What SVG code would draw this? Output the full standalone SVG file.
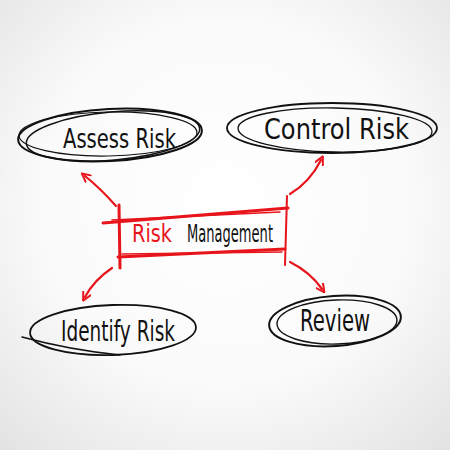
<svg xmlns="http://www.w3.org/2000/svg" width="450" height="450" viewBox="0 0 450 450">
<defs>
<radialGradient id="bg" cx="0.5" cy="0.45" r="0.75">
<stop offset="0" stop-color="#ffffff"/>
<stop offset="0.55" stop-color="#fafafa"/>
<stop offset="1" stop-color="#e2e2e2"/>
</radialGradient>
<marker id="ah" viewBox="0 0 12 12" refX="6" refY="6" markerWidth="4.5" markerHeight="4.5" orient="auto">
<path d="M1,1 L11,6 L1,11" fill="none" stroke="#e8141b" stroke-width="2.4" stroke-linecap="round" stroke-linejoin="round"/>
</marker>
</defs>
<style>
.o{fill:none;stroke:#111;stroke-linecap:round}
.t{font-family:"DejaVu Sans","Liberation Sans",sans-serif;font-weight:normal;fill:#111}
.red{fill:#e8141b}
.r{fill:none;stroke:#e8141b;stroke-linecap:round}
.c{fill:none;stroke:#e8141b;stroke-width:2.2;stroke-linecap:round}
</style>
<rect width="450" height="450" fill="url(#bg)"/>
<g id="connectors">
<path class="c" d="M116,206 Q100,188 85,176" marker-end="url(#ah)"/>
<path class="c" d="M290,194 Q310,182 321,160" marker-end="url(#ah)"/>
<path class="c" d="M112,268 Q94,280 85,297" marker-end="url(#ah)"/>
<path class="c" d="M290,262 Q310,272 322,289" marker-end="url(#ah)"/>
</g>
<g id="assess">
<ellipse class="o" cx="110" cy="135" rx="92" ry="26" stroke-width="2" transform="rotate(-3 110 135)"/>
<ellipse class="o" cx="113" cy="136" rx="87" ry="24" stroke-width="1.5" transform="rotate(-5 113 136)"/>
<ellipse class="o" cx="108" cy="134" rx="89" ry="22" stroke-width="1.2" transform="rotate(-1 108 134)"/>
<text class="t" x="63" y="148" font-size="27" textLength="113" lengthAdjust="spacingAndGlyphs">Assess Risk</text>
</g>
<g id="control">
<ellipse class="o" cx="332" cy="128" rx="105" ry="25" stroke-width="1.8"/>
<ellipse class="o" cx="335" cy="130" rx="97" ry="22" stroke-width="1.3" transform="rotate(1 335 130)"/>
<text class="t" x="264" y="139" font-size="29" textLength="145" lengthAdjust="spacingAndGlyphs">Control Risk</text>
</g>
<g id="risk-management">
<path class="r" stroke-width="3" d="M103,223 L288,208"/>
<path class="r" stroke-width="1.5" d="M112,220 L280,212"/>
<path class="r" stroke-width="3" d="M118,257 L285,249"/>
<path class="r" stroke-width="1.5" d="M122,254 L282,252"/>
<path class="r" stroke-width="3" d="M119,205 L120,268"/>
<path class="r" stroke-width="2" d="M287,196 L285,265"/>
<text class="t red" x="132" y="242" font-size="25" textLength="40" lengthAdjust="spacingAndGlyphs">Risk</text>
<text class="t" x="187" y="242" font-size="24" textLength="86" lengthAdjust="spacingAndGlyphs">Management</text>
</g>
<g id="identify">
<ellipse class="o" cx="113" cy="330" rx="83" ry="25" stroke-width="1.8" transform="rotate(-2 113 330)"/>
<path class="o" stroke-width="1.5" d="M22,337 Q70,350 120,355"/>
<text class="t" x="61" y="341" font-size="28" textLength="114" lengthAdjust="spacingAndGlyphs">Identify Risk</text>
</g>
<g id="review">
<ellipse class="o" cx="335" cy="321" rx="66" ry="25" stroke-width="2" transform="rotate(-4 335 321)"/>
<ellipse class="o" cx="337" cy="322" rx="60" ry="22" stroke-width="1.4" transform="rotate(-2 337 322)"/>
<text class="t" x="300" y="331" font-size="30" textLength="70" lengthAdjust="spacingAndGlyphs">Review</text>
</g>
</svg>
